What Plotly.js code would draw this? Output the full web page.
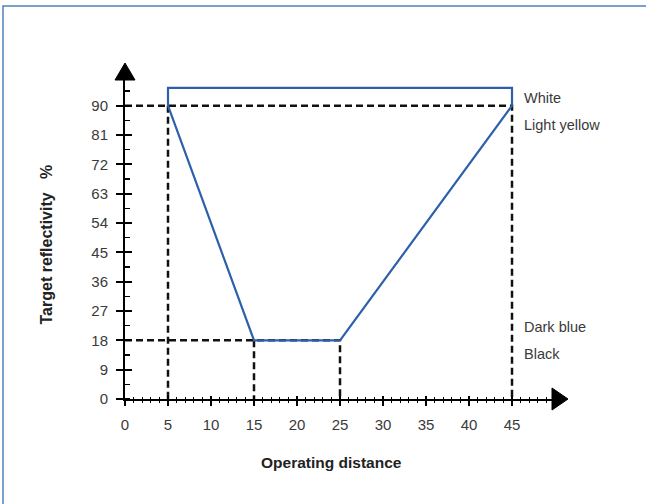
<!DOCTYPE html>
<html><head><meta charset="utf-8">
<script src="https://cdn.plot.ly/plotly-3.0.1.min.js"></script>
<style>html,body{margin:0;padding:0;background:#fff}#chart{width:646px;height:504px}</style>
</head><body><div id="chart"></div>
<script>
// Data
const xTicks = [0,5,10,15,20,25,30,35,40,45];
const yTicks = [0,9,18,27,36,45,54,63,72,81,90];
// reflectivity envelope (distance, reflectivity)
const envX = [5, 5, 45, 45, 25, 15, 5];
const envY = [90, 95.5, 95.5, 90, 18, 18, 90];
// dashed reference lines
const refWhiteX = [0, 45, 45];
const refWhiteY = [90, 90, 0];
const refNear90X = [5, 5];
const refNear90Y = [90, 0];
const refBlackX = [0, 25, 25];
const refBlackY = [18, 18, 0];
const refNear18X = [15, 15];
const refNear18Y = [18, 0];
// right-hand labels
const labelText = ["White", "Light yellow", "Dark blue", "Black"];
const labelY = [92.4, 84.2, 22.1, 13.8];
const labelX = 46.2;
const xMax = 49.65, yMax = 97.9;

const M = {l:125, r:94, t:80, b:105};
const W = 646 - M.l - M.r, H = 504 - M.t - M.b;
const font = 'Liberation Sans, Arial, sans-serif';
const blue = '#2d60aa';
const dashStyle = {color:'#111', width:2.5, dash:'7px,4px'};
const traces = [
  {x:refWhiteX, y:refWhiteY, mode:'lines', line:dashStyle, hoverinfo:'skip'},
  {x:refNear90X, y:refNear90Y, mode:'lines', line:dashStyle, hoverinfo:'skip'},
  {x:refBlackX, y:refBlackY, mode:'lines', line:dashStyle, hoverinfo:'skip'},
  {x:refNear18X, y:refNear18Y, mode:'lines', line:dashStyle, hoverinfo:'skip'},
  {x:envX, y:envY, mode:'lines', line:{color:blue, width:2.2}, hoverinfo:'skip'},
  {x:[], y:[], xaxis:'x2', yaxis:'y2', hoverinfo:'skip'}
];
const tickFont = {family:font, size:15, color:'#3a3a3a'};
const layout = {
  width:646, height:504, showlegend:false,
  paper_bgcolor:'#fff', plot_bgcolor:'#fff',
  margin:M,
  xaxis:{range:[0,xMax], tickvals:xTicks, ticktext:xTicks.map(String), showgrid:false, zeroline:false,
    showline:true, linecolor:'#000', linewidth:2, ticks:'outside', ticklen:5, tickwidth:2, tickcolor:'#000',
    ticklabelstandoff:6, tickfont:tickFont, fixedrange:true,
    minor:{dtick:1, tick0:0, ticks:'outside', ticklen:2, tickwidth:1.3, tickcolor:'#000', showgrid:false}},
  yaxis:{range:[0,yMax], tickvals:yTicks, ticktext:yTicks.map(String), showgrid:false, zeroline:false,
    showline:true, linecolor:'#000', linewidth:2, ticks:'outside', ticklen:7, tickwidth:2, tickcolor:'#000',
    ticklabelstandoff:5, tickfont:tickFont, fixedrange:true,
    minor:{dtick:4.5, tick0:0, ticks:'inside', ticklen:5, tickwidth:1.5, tickcolor:'#000', showgrid:false}},
  xaxis2:{range:[0,xMax], overlaying:'x', anchor:'y2', side:'bottom', tickvals:xTicks, showticklabels:false,
    ticks:'inside', ticklen:3, tickwidth:2, tickcolor:'#000', showgrid:false, zeroline:false, showline:false,
    minor:{dtick:1, tick0:0, ticks:'inside', ticklen:2.5, tickwidth:1.3, tickcolor:'#000', showgrid:false}},
  yaxis2:{range:[0,yMax], overlaying:'y', anchor:'x2', side:'left', tickvals:yTicks, showticklabels:false,
    ticks:'inside', ticklen:7, tickwidth:2, tickcolor:'#000', showgrid:false, zeroline:false, showline:false},
  annotations: labelText.map((t,i)=>({x:labelX, y:labelY[i], xref:'x', yref:'y', text:t, showarrow:false,
      xanchor:'left', yanchor:'middle', font:{family:font, size:14.5, color:'#3a3a3a'}}))
    .concat([
      {xref:'paper', yref:'paper', x:(331.5-M.l)/W, y:(504-M.b-462)/H, text:'<b>Operating distance</b>', showarrow:false,
       xanchor:'center', yanchor:'middle', font:{family:font, size:15.5, color:'#222'}},
      {xref:'paper', yref:'paper', x:(46.5-M.l)/W, y:(504-M.b-245)/H, text:'<b>Target reflectivity   %</b>', showarrow:false,
       textangle:-90, xanchor:'center', yanchor:'middle', font:{family:font, size:16, color:'#222'}}
    ]),
  shapes:[
    {type:'rect', xref:'paper', yref:'paper', x0:(3-M.l)/W, x1:(700-M.l)/W, y0:(504-M.b-560)/H, y1:(504-M.b-6)/H,
     line:{color:'#4f81bd', width:1.5}, fillcolor:'rgba(0,0,0,0)', layer:'below'},
    // axis arrowheads at the ends of the axes
    {type:'path', xref:'paper', yref:'paper', path:`M ${-10/W},1 L ${10/W},1 L 0,${1+17/H} Z`,
     fillcolor:'#000', line:{color:'#000', width:1}},
    {type:'path', xref:'paper', yref:'paper', path:`M 1,${-11/H} L 1,${11/H} L ${1+16/W},0 Z`,
     fillcolor:'#000', line:{color:'#000', width:1}}
  ]
};
Plotly.newPlot('chart', traces, layout, {displayModeBar:false, staticPlot:true});
</script></body></html>
